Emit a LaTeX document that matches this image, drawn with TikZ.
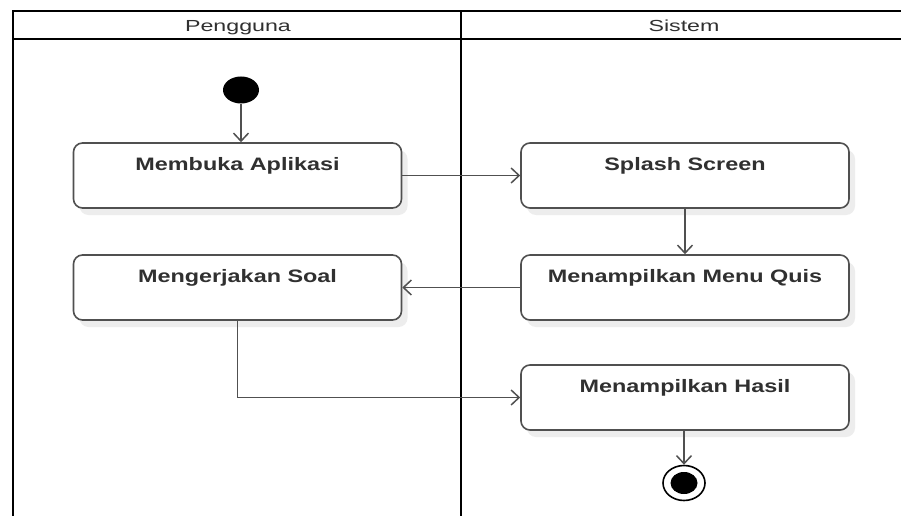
\documentclass[tikz,border=0pt]{standalone}
\usepackage{fontspec}
\setmainfont{Liberation Sans}
\newfontfamily\lanefont[FakeStretch=1.45]{Liberation Sans}
\newfontfamily\actfont[FakeStretch=1.3]{Liberation Sans}
\usetikzlibrary{arrows.meta,shadows,shapes.geometric}
\definecolor{linegray}{HTML}{505050}
\definecolor{textgray}{HTML}{303030}
\definecolor{shadowgray}{HTML}{EDEDED}
\begin{document}
\begin{tikzpicture}[x=1pt,y=-1pt,
  lane/.style={line width=2.8pt, draw=black},
  lanetitle/.style={anchor=base, text=textgray, font=\lanefont\fontsize{16}{18}\selectfont},
  act/.style={draw=linegray, line width=1.6pt, rounded corners=9pt, fill=white,
    minimum width=328pt, inner sep=0pt, text height=27pt, text depth=38pt,
    text=textgray, font=\actfont\bfseries\fontsize{18}{20}\selectfont,
    drop shadow={shadow xshift=6pt, shadow yshift=-7pt, fill=shadowgray, opacity=1}},
  flow/.style={draw=linegray, line width=1.5pt,
    -{Straight Barb[length=8pt,width=15pt,line width=1.5pt]}},
  startdot/.style={ellipse, fill=black, inner sep=0pt, minimum width=36pt, minimum height=27pt},
  endring/.style={ellipse, draw=black, line width=1.6pt, fill=white, inner sep=0pt,
    minimum width=42pt, minimum height=35pt},
  enddot/.style={ellipse, fill=black, inner sep=0pt, minimum width=27pt, minimum height=22pt}]

  % page area
  \useasboundingbox (0,0) rectangle (901,516);
  \fill[white] (0,0) rectangle (901,516);

  % swimlane frame
  \draw[lane] (13,516) -- (13,11) -- (901,11);
  \draw[lane] (13,39) -- (901,39);
  \draw[lane] (461,11) -- (461,516);
  \node[lanetitle] (laneA) at (238,32) {Pengguna};
  \node[lanetitle] (laneB) at (684,32) {Sistem};

  % activities
  \node[startdot] (start) at (241,90) {};
  \node[act] (buka)   at (237.5,175.5) {Membuka Aplikasi};
  \node[act] (splash) at (685,175.5)   {Splash Screen};
  \node[act] (menu)   at (685,287.5)   {Menampilkan Menu Quis};
  \node[act] (kerja)  at (237.5,287.5) {Mengerjakan Soal};
  \node[act] (hasil)  at (685,397.5)   {Menampilkan Hasil};
  \node[endring] (final) at (684,483) {};
  \node[enddot] (finaldot) at (final) {};

  % control flow
  \draw[flow] (start) -- (start |- buka.north);
  \draw[flow] (buka) -- (splash);
  \draw[flow] (splash) -- (menu);
  \draw[flow] (menu) -- (kerja);
  \draw[flow] (kerja.south) |- (hasil.west);
  \draw[flow] (final |- hasil.south) -- (final);
\end{tikzpicture}
\end{document}
